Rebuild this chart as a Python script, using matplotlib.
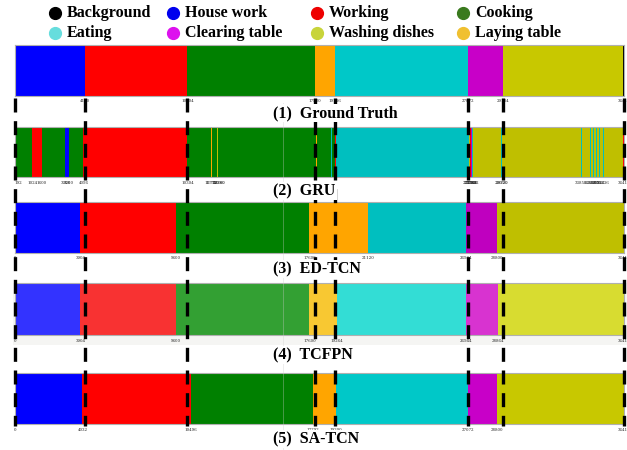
import matplotlib
matplotlib.use("Agg")
import matplotlib.pyplot as plt
from matplotlib.patches import Rectangle

# total number of frames in the video
total_frames = 36416

classes = ["Background", "House work", "Working", "Cooking",
           "Eating", "Clearing table", "Washing dishes", "Laying table"]

# segment boundaries (frames) and segment class for each model
gt_bounds = [0, 64, 4160, 10304, 17920, 19136, 27072, 29184, 36352, 36416]
gt_segs = ["Background", "House work", "Working", "Cooking", "Laying table",
           "Eating", "Clearing table", "Washing dishes", "Background"]
gt_ticks = [0, 4160, 10304, 17920, 19136, 27072, 29184, 36416]

gru_bounds = [0, 1024, 1600, 3008, 3200, 4096, 10304, 11712, 11776, 12096,
              12160, 17984, 18048, 18880, 18944, 19136, 19200, 27136, 27200,
              27264, 27328, 27392, 29056, 29120, 33856, 33920, 34368, 34432,
              34560, 34624, 34752, 34816, 34944, 35008, 35136, 35200, 36352,
              36416]
gru_segs = ["Cooking", "Working", "Cooking", "House work", "Cooking",
            "Working", "Cooking", "Laying table", "Cooking", "Washing dishes",
            "Cooking", "Laying table", "Cooking", "Eating", "Cooking",
            "Working", "Eating", "Washing dishes", "Working", "Clearing table",
            "Eating", "Washing dishes", "Eating", "Washing dishes", "Eating",
            "Washing dishes", "Eating", "Washing dishes", "Eating",
            "Washing dishes", "Eating", "Washing dishes", "Eating",
            "Washing dishes", "Eating", "Washing dishes", "Working"]
gru_ticks = [192, 1024, 1600, 3008, 3200, 4096, 10304, 11712, 11776, 12096,
             12160, 27136, 27200, 27264, 27328, 27392, 29056, 29120, 33856,
             34368, 34560, 34752, 34944, 35136, 36416]

edtcn_bounds = [0, 3904, 9600, 17600, 21120, 26944, 28800, 36416]
edtcn_segs = ["House work", "Working", "Cooking", "Laying table", "Eating",
              "Clearing table", "Washing dishes"]

tcfpn_bounds = [0, 3904, 9600, 17600, 19264, 26944, 28864, 36416]
tcfpn_segs = ["House work", "Working", "Cooking", "Laying table", "Eating",
              "Clearing table", "Washing dishes"]

satcn_bounds = [0, 4032, 10496, 17792, 19200, 27072, 28800, 36416]
satcn_segs = ["House work", "Working", "Cooking", "Laying table", "Eating",
              "Clearing table", "Washing dishes"]

titles = ["(1)  Ground Truth", "(2)  GRU", "(3)  ED-TCN", "(4)  TCFPN",
          "(5)  SA-TCN"]

# colours
legend_colors = ["#000000", "#0000ee", "#ee0000", "#3a7a1e",
                 "#66dddd", "#dd11ee", "#c8d43a", "#f0c030"]
bright = {"Background": "#000000", "House work": "#0000ff", "Working": "#ff0000",
          "Cooking": "#008000", "Eating": "#00c8c8", "Clearing table": "#c800c8",
          "Washing dishes": "#c8c800", "Laying table": "#ffa500"}
dark = dict(bright, **{"Eating": "#00bfbf", "Clearing table": "#bf00bf",
                       "Washing dishes": "#bfbf00"})
light = {"Background": "#333333", "House work": "#3333ff", "Working": "#f83232",
         "Cooking": "#33a033", "Eating": "#33ddd5", "Clearing table": "#d833d0",
         "Washing dishes": "#d8dc30", "Laying table": "#f8c832"}

W, H = 627, 450
fig = plt.figure(figsize=(W / 100, H / 100), dpi=100)
serif = "Liberation Serif"


def px_axes(left, top, right, bottom, **kw):
    return fig.add_axes([left / W, 1 - bottom / H, (right - left) / W,
                         (bottom - top) / H], **kw)


def draw_bar(top, bottom, bounds, segs, palette, ticks, label_y, title, title_y):
    ax = px_axes(15, top, 624, bottom)
    ax.patch.set_alpha(0)
    for x0, x1, c in zip(bounds[:-1], bounds[1:], segs):
        ax.broken_barh([(x0, x1 - x0)], (0, 1), facecolors=palette[c],
                       edgecolor="none", antialiased=False)
    ax.set_xlim(0, total_frames)
    ax.set_ylim(0, 1)
    ax.set_xticks([])
    ax.set_yticks([])
    for s in ax.spines.values():
        s.set_color("#b0b0b0")
        s.set_linewidth(0.8)
    # boundary labels under the bar
    lab = px_axes(15, label_y - 3, 624, label_y + 3)
    lab.set_xlim(0, total_frames)
    lab.set_ylim(0, 1)
    lab.axis("off")
    for t in ticks:
        lab.text(t, 0.5, str(t), ha="center", va="center", fontsize=2.9,
                 family="DejaVu Serif", color="#222222")
    fig.text(273 / W, 1 - title_y / H, title, ha="left", va="center",
             fontsize=11.5, fontweight="bold", family=serif, zorder=10,
             bbox=dict(facecolor="white", edgecolor="none", pad=1.0))


# light grey backdrop behind the TCFPN strip
fig.patches.append(Rectangle((13 / W, 1 - 345 / H), (W - 13) / W, 62 / H,
                             transform=fig.transFigure, facecolor="#f5f5f3",
                             edgecolor="none", zorder=-5))

draw_bar(45, 96, gt_bounds, gt_segs, bright, gt_ticks, 101, titles[0], 113)
draw_bar(127, 177, gru_bounds, gru_segs, dark, gru_ticks, 183, titles[1], 191)
draw_bar(202, 253, edtcn_bounds, edtcn_segs, dark, edtcn_bounds, 258,
         titles[2], 269)
draw_bar(283, 335, tcfpn_bounds, tcfpn_segs, light, tcfpn_bounds, 341,
         titles[3], 355)
draw_bar(373, 424, satcn_bounds, satcn_segs, bright, satcn_bounds, 430,
         titles[4], 439)

# dashed ground-truth boundaries running through every prediction
over = px_axes(15, 0, 624, 450)
over.set_xlim(0, total_frames)
over.set_ylim(450, 0)
over.axis("off")
over.patch.set_alpha(0)
over.plot([16016, 16016], [103, 450], color="#cccccc", alpha=0.35, lw=0.7)
for b in gt_ticks:
    over.plot([b, b], [98, 426], color="black", lw=2.4,
              dashes=(4.2, 2.6), solid_capstyle="butt", clip_on=False)

# legend
leg_x = [55, 173, 317, 463]
leg_y = [13, 33]
for i, (name, col) in enumerate(zip(classes, legend_colors)):
    x = leg_x[i % 4]
    y = leg_y[i // 4]
    fig.lines.append(plt.Line2D([x / W], [1 - y / H], marker="o", markersize=8.5,
                                color=col, transform=fig.transFigure))
    fig.text((x + 12) / W, 1 - y / H, name, ha="left", va="center",
             fontsize=11.5, fontweight="bold", family=serif)

fig.savefig("out.png", dpi=100)
